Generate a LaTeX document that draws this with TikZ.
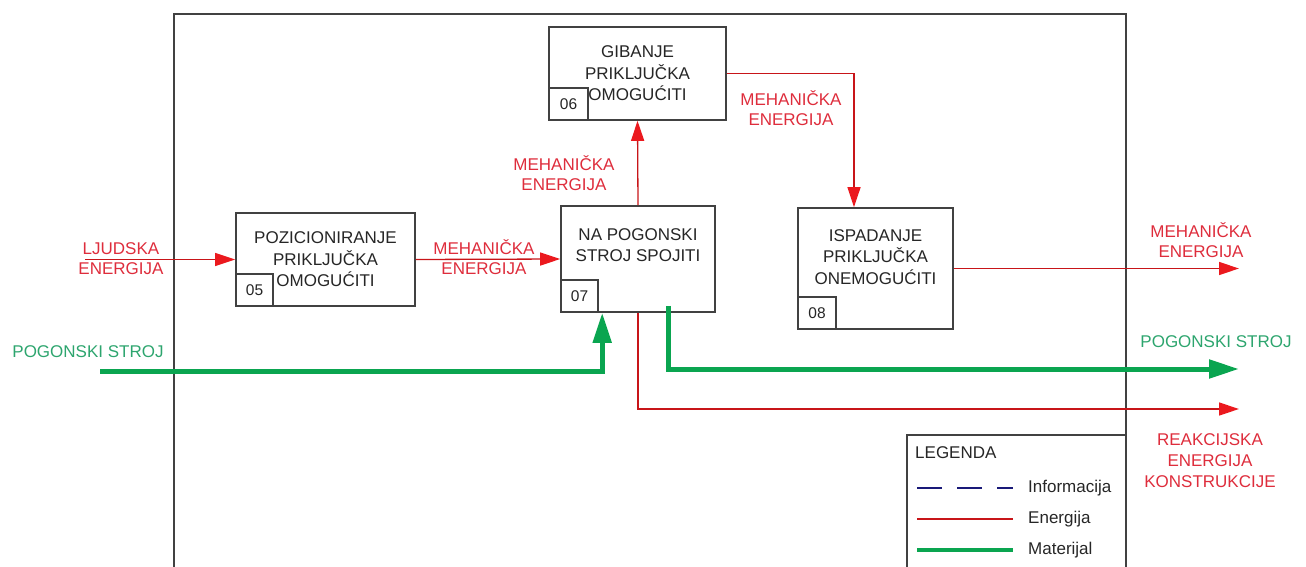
\documentclass[tikz,border=0pt]{standalone}
\usepackage{fontspec}
\setmainfont{Liberation Sans}
\usetikzlibrary{arrows.meta}
\definecolor{ered}{RGB}{235,25,30}
\definecolor{tred}{RGB}{222,45,60}
\definecolor{mgreen}{RGB}{10,165,80}
\definecolor{tgreen}{RGB}{45,165,110}
\definecolor{frame}{RGB}{65,65,65}
\definecolor{infoblue}{RGB}{25,25,120}
\tikzset{
  fn/.style={font=\fontsize{17}{20}\selectfont},
  fbox/.style={draw=frame, line width=1.6pt, fill=white, align=center, inner sep=0pt,
    font=\fontsize{17}{21.5}\selectfont, text=black!85},
  idbox/.style={draw=frame, line width=1.6pt, anchor=south west, inner sep=0pt,
    minimum width=37pt, minimum height=32pt, font=\fontsize{15.5}{18}\selectfont, text=black!85},
  enlab/.style={fn, text=tred, align=center, inner sep=0pt},
  matlab/.style={fn, text=tgreen, align=center, inner sep=0pt},
  energy/.style={draw=ered!85!black, line width=1.3pt, -{Triangle[length=20pt,width=13pt,fill=ered,color=ered]}},
  material/.style={draw=mgreen, line width=5pt, -{Triangle[length=30pt,width=18pt,fill=mgreen,color=mgreen]}},
  outer/.style={draw=frame, line width=2pt},
}
\begin{document}
\begin{tikzpicture}[x=1pt,y=-1pt]
\useasboundingbox (0,0) rectangle (1306,567);
% outer frame
\draw[outer] (174,570) -- (174,14) -- (1126,14) -- (1126,570);

% function boxes
\node[fbox, minimum width=179pt, minimum height=93pt] (b05) at (325.5,259.5) {POZICIONIRANJE\\PRIKLJUČKA\\OMOGUĆITI};
\node[idbox] (n05) at (b05.south west) {05};
\node[fbox, minimum width=177pt, minimum height=93pt] (b06) at (637.5,73.5) {GIBANJE\\PRIKLJUČKA\\OMOGUĆITI};
\node[idbox, minimum width=39pt] (n06) at (b06.south west) {06};
\node[fbox, minimum width=154pt, minimum height=106pt] (b07) at (638,259) {NA POGONSKI\\STROJ SPOJITI\\[6pt]};
\node[idbox] (n07) at (b07.south west) {07};
\node[fbox, minimum width=155pt, minimum height=121pt] (b08) at (875.5,268.5) {ISPADANJE\\PRIKLJUČKA\\ONEMOGUĆITI\\[2pt]};
\node[idbox, minimum width=38pt] (n08) at (b08.south west) {08};

% free ends
\coordinate (lj) at (85,259.5);
\coordinate (o1) at (1239,268.5);
\coordinate (gin) at (100,371);
\coordinate (gout) at (1239,369);
\coordinate (rout) at (1239,409);
\coordinate (c68) at ([xshift=-21.5pt]b08.north);

% energy flows
\draw[energy] (lj) -- (b05.west);
\draw[energy] (b05.east) -- (b07.west);
\draw[energy] (b07.north) -- (b06.south);
\draw[energy] (b06.east) -| (c68);
\draw[energy] (b08.east) -- (o1);
\draw[energy] (b07.south) |- (rout);

% material flows
\draw[material] (gin) -| ([xshift=42pt]b07.south west);
\draw[material, -{Triangle[length=30pt,width=18pt,fill=mgreen,color=mgreen]}] ([xshift=108pt,yshift=7pt]b07.south west) |- (gout);

% labels
\node[enlab] (l1) at (121,259) {LJUDSKA\\ENERGIJA};
\node[enlab] (l2) at (484,257) {MEHANIČKA\\ENERGIJA};
\node[enlab] (l3) at (564,173) {MEHANIČKA\\ENERGIJA};
\node[enlab] (l4) at (791,108) {MEHANIČKA\\ENERGIJA};
\node[enlab] (l5) at (1201,240) {MEHANIČKA\\ENERGIJA};
\node[enlab, font=\fontsize{17}{21}\selectfont] (l6) at (1210,461) {REAKCIJSKA\\ENERGIJA\\KONSTRUKCIJE};
\node[matlab] (m1) at (88,352) {POGONSKI STROJ};
\node[matlab] (m2) at (1216,342) {POGONSKI STROJ};

% legend
\draw[outer] (907,570) -- (907,435) -- (1126,435);
\node[fn, anchor=west, inner sep=0pt, text=black!85] (lg) at (915,453) {LEGENDA};
\coordinate (li1) at (917,488); \coordinate (li2) at (1013,488);
\coordinate (le1) at (917,519); \coordinate (le2) at (1013,519);
\coordinate (lm1) at (917,550); \coordinate (lm2) at (1013,550);
\draw[draw=infoblue, line width=1.3pt, dash pattern=on 25pt off 15pt] (li1) -- (li2);
\draw[draw=ered!85!black, line width=1.3pt] (le1) -- (le2);
\draw[draw=mgreen, line width=4.5pt] (lm1) -- (lm2);
\node[fn, anchor=west, inner sep=0pt, text=black!85] (ti) at (1028,488) {Informacija};
\node[fn, anchor=west, inner sep=0pt, text=black!85] (te) at (1028,519) {Energija};
\node[fn, anchor=west, inner sep=0pt, text=black!85] (tm) at (1028,550) {Materijal};
\end{tikzpicture}
\end{document}
